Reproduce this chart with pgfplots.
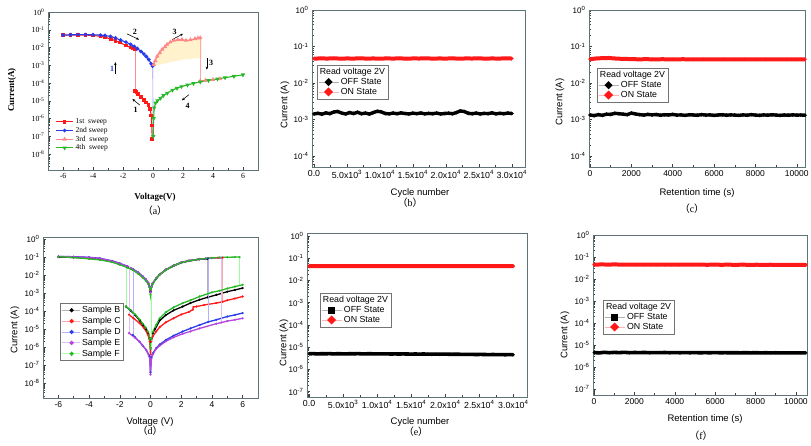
\documentclass[border=0pt]{standalone}
\usepackage{pgfplots}
\pgfplotsset{compat=1.18}
\usepackage{fontspec}
\setmainfont{Liberation Sans}
\newfontfamily\timesf{Liberation Serif}
\newfontfamily\cjk{Noto Sans CJK SC}
\usetikzlibrary{arrows.meta}
\definecolor{axc}{RGB}{95,115,120}
\definecolor{myred}{RGB}{255,25,25}
\definecolor{myblue}{RGB}{40,60,235}
\definecolor{mypink}{RGB}{255,135,135}
\definecolor{mygreen}{RGB}{40,185,40}
\definecolor{mypurple}{RGB}{180,70,220}
\definecolor{myyellow}{RGB}{255,242,205}
\newcommand{\tp}[1]{10\textsuperscript{#1}}
\pgfplotsset{
  myaxbase/.style={scale only axis, anchor=north west,
    axis line style={draw=axc, line width=0.7pt},
    tick pos=left, tick align=inside, major tick length=3pt, minor tick length=1.6pt,
    tick style={black!75, line width=0.45pt},
    tick label style={font=\fontsize{8}{9}\selectfont},
    scaled x ticks=false,
    legend cell align=left,
    minor ytick={2e-9,3e-9,4e-9,5e-9,6e-9,7e-9,8e-9,9e-9,
      2e-8,3e-8,4e-8,5e-8,6e-8,7e-8,8e-8,9e-8,
      2e-7,3e-7,4e-7,5e-7,6e-7,7e-7,8e-7,9e-7,
      2e-6,3e-6,4e-6,5e-6,6e-6,7e-6,8e-6,9e-6,
      2e-5,3e-5,4e-5,5e-5,6e-5,7e-5,8e-5,9e-5,
      2e-4,3e-4,4e-4,5e-4,6e-4,7e-4,8e-4,9e-4,
      2e-3,3e-3,4e-3,5e-3,6e-3,7e-3,8e-3,9e-3,
      0.02,0.03,0.04,0.05,0.06,0.07,0.08,0.09,
      0.2,0.3,0.4,0.5,0.6,0.7,0.8,0.9,2}},
  myylogA/.style={ytick={1e-8,1e-7,1e-6,1e-5,1e-4,1e-3,1e-2,1e-1,1},
    yticklabels={\tp{-8},\tp{-7},\tp{-6},\tp{-5},\tp{-4},\tp{-3},\tp{-2},\tp{-1},\tp{0}}},
  myylogB/.style={ytick={1e-4,1e-3,1e-2,1e-1,1},
    yticklabels={\tp{-4},\tp{-3},\tp{-2},\tp{-1},\tp{0}}},
  myylogC/.style={ytick={1e-7,1e-6,1e-5,1e-4,1e-3,1e-2,1e-1,1},
    yticklabels={\tp{-7},\tp{-6},\tp{-5},\tp{-4},\tp{-3},\tp{-2},\tp{-1},\tp{0}}},
  mycyc/.style={xmin=-300, xmax=32000, xtick={0,5000,10000,15000,20000,25000,30000},
    minor x tick num=1,
    xticklabels={0.0,5.0x\tp{3},1.0x\tp{4},1.5x\tp{4},2.0x\tp{4},2.5x\tp{4},3.0x\tp{4}},
    xticklabel style={font=\fontsize{8.8}{9}\selectfont}},
  myret/.style={xtick={0,2000,4000,6000,8000,10000}, minor x tick num=1,
    xticklabels={0,2000,4000,6000,8000,10000}, xticklabel style={font=\fontsize{8.5}{9}\selectfont}},
  myleg/.style={legend style={at={#1}, anchor=north west, draw=black!55, fill=white,
    font=\fontsize{8.8}{9.5}\selectfont, inner sep=1pt, row sep=-1.8pt, line width=0.5pt}},
  myoff/.style={black, line width=3.4pt, mark=*, mark size=1.7pt, mark options={line width=0.2pt},
    legend image code/.code={\draw[black!30, line width=0.7pt] (0pt,0pt) -- (20pt,0pt); \fill[black] (10pt,0pt) circle (1.7pt);}},
  myoffsq/.style={black, line width=3.6pt, mark=*, mark size=1.3pt, mark options={line width=0.2pt},
    legend image code/.code={\draw[black!30, line width=0.7pt] (0pt,0pt) -- (20pt,0pt); \fill[black] (8.3pt,-1.6pt) rectangle (11.5pt,1.6pt);}},
  myon/.style={myred, line width=4pt, mark=*, mark size=1.6pt, mark options={line width=0.2pt},
    legend image code/.code={\draw[red!30, line width=0.7pt] (0pt,0pt) -- (20pt,0pt); \fill[myred] (10pt,0pt) circle (1.7pt);}},
  mysmp/.style 2 args={#1, line width=1.3pt, mark=*, mark size=1pt, mark options={line width=0.2pt},
    legend image code/.code={\draw[#2, line width=0.8pt] (0pt,0pt) -- (18pt,0pt); \fill[#1] (10pt,0pt) circle (1.4pt);}},
  mysmpf/.style={#1, line width=1.3pt, mark=*, mark size=1pt, mark options={line width=0.2pt}, forget plot},
  mypale/.style={#1, line width=0.6pt, no marks, forget plot},
}
\begin{document}
\begin{tikzpicture}
\useasboundingbox (0,0) rectangle (811pt,-445pt);
% ---------------- (a)
\begin{axis}[ymode=log, myaxbase, at={(48pt,-12pt)}, width=210pt, height=158pt,
  xmin=-7, xmax=7, ymin=1.25e-9, ymax=1, myylogA,
  xtick={-6,-4,-2,0,2,4,6}, xticklabels={-6,-4,-2,0,2,4,6}, minor x tick num=1,
  tick label style={font=\timesf\fontsize{7.8}{8}\selectfont},
  legend style={at={(0.03,0.345)}, anchor=north west, draw=none, fill=none,
    font=\timesf\fontsize{7.5}{8}\selectfont, row sep=-2pt, inner sep=1pt}]
\addplot[fill=myyellow, draw=none, forget plot] coordinates {
 (0.1,1.3e-3) (0.28,3.2e-3) (0.61,7.8e-3) (0.94,1.5e-2) (1.38,2.5e-2) (1.94,2.8e-2) (2.2,2.5e-2)
 (2.5,2.7e-2) (2.8,3.1e-2) (3.1,3.5e-2) (3.25,3.5e-2) (3.25,2.6e-3) (2,2.1e-3) (1,1.4e-3) (0.1,9e-4)};
\addplot[myred, line width=1.1pt, mark=square*, mark size=1.3pt] coordinates {
 (-1.2,8e-3) (-1.35,9e-3) (-1.5,1e-2) (-1.8,1.3e-2) (-2.2,1.9e-2) (-2.5,2.4e-2) (-2.8,3e-2)
 (-3.2,3.8e-2) (-3.5,4.3e-2) (-4,4.8e-2) (-4.5,5e-2) (-5,5e-2) (-5.5,5e-2) (-6,5e-2)};
\addlegendentry{1st\ \ sweep}
\addplot[myred, line width=1.1pt, mark=square*, mark size=1.3pt, forget plot] coordinates {
 (-0.05,7e-8) (-0.08,4e-7) (-0.12,1.5e-6) (-0.2,3.5e-6) (-0.3,6e-6) (-0.45,8e-6) (-0.6,1.1e-5)
 (-0.8,1.7e-5) (-1,2.5e-5) (-1.1,3e-5) (-1.2,3.6e-5)};
\addplot[mypale=red!45] coordinates {(-1.2,3.6e-5) (-1.2,8e-3)};
\addplot[myblue, line width=1.1pt, mark=*, mark size=1.3pt] coordinates {
 (-6,5e-2) (-5.5,5.2e-2) (-5,5.3e-2) (-4.5,5.3e-2) (-4,5.2e-2) (-3.5,5e-2) (-3.2,4.7e-2)
 (-2.83,4.2e-2) (-2.5,3.4e-2) (-2.16,2.6e-2) (-1.8,2e-2) (-1.49,1.5e-2) (-1.25,1.15e-2)
 (-1.05,8.8e-3) (-0.8,6e-3) (-0.61,4.3e-3) (-0.45,3.1e-3) (-0.28,2.1e-3) (-0.12,1.2e-3) (-0.03,9e-4)};
\addlegendentry{2nd sweep}
\addplot[mypale=blue!40] coordinates {(-0.02,9e-4) (0,6e-6) (0,1e-7)};
\addplot[mypink, line width=1.1pt, mark=triangle*, mark size=1.5pt] coordinates {
 (0.05,1.1e-3) (0.15,1.8e-3) (0.28,3.2e-3) (0.45,5e-3) (0.61,7.8e-3) (0.8,1.1e-2) (0.94,1.5e-2)
 (1.15,2e-2) (1.38,2.5e-2) (1.65,2.7e-2) (1.94,2.8e-2) (2.2,2.5e-2) (2.5,2.7e-2) (2.8,3.1e-2)
 (3.0,3.4e-2) (3.15,3.5e-2)};
\addlegendentry{3rd\ \ sweep}
\addplot[mypale=red!35] coordinates {(3.15,3.5e-2) (3.15,1.3e-4)};
\addplot[mypink, line width=1.1pt, mark=triangle*, mark size=1.5pt, forget plot] coordinates {
 (3.15,1.3e-4) (3.5,1.4e-4) (4,1.55e-4) (4.47,1.7e-4)};
\addplot[mygreen, line width=1.1pt, mark=triangle*, mark options={rotate=180}, mark size=1.5pt] coordinates {
 (6,2.9e-4) (5.4,2.4e-4) (4.8,2e-4) (4.3,1.7e-4) (3.7,1.4e-4) (3.15,1.15e-4) (2.7,9.5e-5)
 (2.3,7.8e-5) (1.9,6.3e-5) (1.6,5.1e-5) (1.3,4e-5) (0.95,2.7e-5) (0.7,2e-5) (0.5,1.4e-5)
 (0.3,1e-5) (0.17,7.5e-6) (0.08,4e-6) (0.04,1e-6) (0.02,1e-7)};
\addlegendentry{4th\ \ sweep}
\draw[-{Stealth[length=3pt,width=2.5pt]}, line width=0.55pt] (axis cs:-1.74,0.059) -- (axis cs:-0.93,0.028);
\draw[-{Stealth[length=3pt,width=2.5pt]}, line width=0.55pt] (axis cs:1.28,0.028) -- (axis cs:2.0,0.059);
\draw[-{Stealth[length=3pt,width=2.5pt]}, line width=0.55pt] (axis cs:-2.51,3.4e-4) -- (axis cs:-2.51,1.5e-3);
\draw[-{Stealth[length=3pt,width=2.5pt]}, line width=0.55pt] (axis cs:3.59,2.6e-3) -- (axis cs:3.59,5.6e-4);
\draw[-{Stealth[length=3pt,width=2.5pt]}, line width=0.55pt] (axis cs:-0.88,5.7e-6) -- (axis cs:-1.37,1.25e-5);
\draw[-{Stealth[length=3pt,width=2.5pt]}, line width=0.55pt] (axis cs:2.4,2.2e-5) -- (axis cs:1.92,1.05e-5);
\node[font=\timesf\bfseries\fontsize{8}{9}\selectfont] at (axis cs:-1.21,0.075) {2};
\node[font=\timesf\bfseries\fontsize{8}{9}\selectfont] at (axis cs:1.45,0.075) {3};
\node[font=\timesf\bfseries\fontsize{8}{9}\selectfont, text=myblue] at (axis cs:-2.72,6.5e-4) {1};
\node[font=\timesf\bfseries\fontsize{8}{9}\selectfont] at (axis cs:3.88,1.35e-3) {3};
\node[font=\timesf\bfseries\fontsize{8}{9}\selectfont] at (axis cs:-1.15,3e-6) {1};
\node[font=\timesf\bfseries\fontsize{8}{9}\selectfont] at (axis cs:2.31,5.2e-6) {4};
\end{axis}
% ---------------- (b)
\begin{axis}[ymode=log, myaxbase, at={(312pt,-10pt)}, width=213pt, height=157pt, mycyc,
  ymin=5e-5, ymax=1, myylogB, myleg={(0.023,0.65)}]
\addlegendimage{empty legend}\addlegendentry{\hspace{-21pt}Read voltage 2V}
\addplot[myoff] coordinates {
 (0,1.42e-3) (600,1.48e-3) (1200,1.40e-3) (1800,1.52e-3) (2400,1.45e-3) (3000,1.60e-3)
 (3600,1.66e-3) (4200,1.50e-3) (4800,1.42e-3) (5400,1.55e-3) (6000,1.46e-3) (6600,1.58e-3)
 (7200,1.44e-3) (7800,1.50e-3) (8400,1.41e-3) (9000,1.55e-3) (9600,1.68e-3) (10200,1.62e-3)
 (10800,1.46e-3) (11400,1.43e-3) (12000,1.50e-3) (12600,1.44e-3) (13200,1.52e-3) (13800,1.46e-3)
 (14400,1.42e-3) (15000,1.49e-3) (15600,1.45e-3) (16200,1.51e-3) (16800,1.43e-3) (17400,1.47e-3)
 (18000,1.44e-3) (18600,1.50e-3) (19200,1.42e-3) (19800,1.46e-3) (20400,1.49e-3) (21000,1.44e-3)
 (21600,1.55e-3) (22200,1.72e-3) (22800,1.65e-3) (23400,1.48e-3) (24000,1.44e-3) (24600,1.50e-3)
 (25200,1.42e-3) (25800,1.47e-3) (26400,1.45e-3) (27000,1.52e-3) (27600,1.43e-3) (28200,1.48e-3)
 (28800,1.44e-3) (29400,1.50e-3) (30000,1.46e-3)};
\addlegendentry{OFF State}
\addplot[myon] coordinates {
 (0,4.65e-2) (1000,4.72e-2) (2000,4.68e-2) (3000,4.74e-2) (4000,4.66e-2) (5000,4.70e-2)
 (6000,4.68e-2) (7000,4.73e-2) (8000,4.67e-2) (9000,4.70e-2) (10000,4.66e-2) (11000,4.71e-2)
 (12000,4.68e-2) (13000,4.72e-2) (14000,4.66e-2) (15000,4.70e-2) (16000,4.69e-2) (17000,4.73e-2)
 (18000,4.67e-2) (19000,4.70e-2) (20000,4.68e-2) (21000,4.72e-2) (22000,4.66e-2) (23000,4.70e-2)
 (24000,4.69e-2) (25000,4.72e-2) (26000,4.67e-2) (27000,4.70e-2) (28000,4.68e-2) (29000,4.71e-2)
 (30000,4.69e-2)};
\addlegendentry{ON State}
\end{axis}
% ---------------- (c)
\begin{axis}[ymode=log, myaxbase, at={(589pt,-10pt)}, width=216pt, height=157pt, myret, xmin=-50, xmax=10400,
  ymin=5e-5, ymax=1, myylogB, myleg={(0.037,0.63)}]
\addlegendimage{empty legend}\addlegendentry{\hspace{-21pt}Read voltage 2V}
\addplot[myoff] coordinates {
 (0,1.33e-3) (200,1.28e-3) (400,1.36e-3) (600,1.30e-3) (800,1.40e-3) (1000,1.38e-3)
 (1200,1.48e-3) (1400,1.44e-3) (1600,1.40e-3) (1800,1.36e-3) (2000,1.50e-3) (2200,1.42e-3)
 (2400,1.36e-3) (2600,1.32e-3) (2800,1.38e-3) (3000,1.34e-3) (3200,1.37e-3) (3400,1.31e-3)
 (3600,1.35e-3) (3800,1.33e-3) (4000,1.38e-3) (4200,1.32e-3) (4400,1.34e-3) (4600,1.30e-3)
 (4800,1.35e-3) (5000,1.33e-3) (5200,1.31e-3) (5400,1.36e-3) (5600,1.32e-3) (5800,1.34e-3)
 (6000,1.30e-3) (6200,1.33e-3) (6400,1.35e-3) (6600,1.31e-3) (6800,1.34e-3) (7000,1.32e-3)
 (7200,1.30e-3) (7400,1.34e-3) (7600,1.31e-3) (7800,1.36e-3) (8000,1.32e-3) (8200,1.30e-3)
 (8400,1.34e-3) (8600,1.31e-3) (8800,1.35e-3) (9000,1.32e-3) (9200,1.30e-3) (9400,1.33e-3)
 (9600,1.31e-3) (9800,1.34e-3) (10000,1.32e-3) (10200,1.33e-3) (10400,1.31e-3)};
\addlegendentry{OFF State}
\addplot[myon] coordinates {
 (0,4.5e-2) (300,4.7e-2) (600,4.8e-2) (900,4.85e-2) (1200,4.7e-2) (1500,4.6e-2) (1800,4.55e-2)
 (2100,4.5e-2) (2400,4.45e-2) (2700,4.5e-2) (3000,4.45e-2) (3500,4.48e-2) (4000,4.45e-2)
 (4500,4.48e-2) (5000,4.44e-2) (5500,4.47e-2) (6000,4.45e-2) (6500,4.46e-2) (7000,4.44e-2)
 (7500,4.47e-2) (8000,4.44e-2) (8500,4.46e-2) (9000,4.44e-2) (9500,4.45e-2) (10000,4.44e-2)
 (10400,4.45e-2)};
\addlegendentry{ON State}
\end{axis}
% ---------------- (d)
\begin{axis}[ymode=log, myaxbase, at={(43pt,-237pt)}, width=215pt, height=161pt,
  xmin=-7, xmax=7, ymin=1.5e-9, ymax=1.3, myylogA,
  xtick={-6,-4,-2,0,2,4,6}, xticklabels={-6,-4,-2,0,2,4,6}, minor x tick num=1,
  xticklabel style={font=\fontsize{8.5}{9}\selectfont},
  myleg={(0.079,0.59)}, legend style={row sep=-1pt}]
% B
\addplot[mysmp={black}{black!30}] coordinates {
 (-6,0.1) (-5,0.095) (-4,0.085) (-3.3,0.076) (-2.5,0.055) (-2,0.04) (-1.5,0.0275) (-1.15,0.02)
 (-0.8,0.0124) (-0.5,7.6e-3) (-0.3,5.2e-3) (-0.15,3.4e-3) (-0.05,2.1e-3) (0,1.2e-3) (0.05,2.1e-3)
 (0.15,3.4e-3) (0.37,6.3e-3) (0.6,1.05e-2) (1,1.9e-2) (1.5,3.2e-2) (2,4.8e-2) (2.5,6e-2)
 (3.2,7.5e-2) (3.6,7.9e-2) (3.7,8e-2)};
\addlegendentry{Sample B}
\addplot[mypale=black!30] coordinates {(3.7,8e-2) (3.7,5.8e-4)};
\addplot[mysmpf=black] coordinates {
 (6,1.9e-3) (5.5,1.5e-3) (5,1.2e-3) (4.3,8e-4) (3.7,5.8e-4) (3.2,4.3e-4) (2.6,2.8e-4) (2.1,1.8e-4)
 (1.5,1.1e-4) (1,6e-5) (0.6,3e-5) (0.3,1e-5) (0.15,6e-6) (0.05,3e-6) (0,2e-6) (-0.05,3e-6)
 (-0.15,6e-6) (-0.3,1e-5) (-0.5,1.7e-5) (-0.7,3e-5) (-1,6e-5) (-1.3,1.1e-4) (-1.6,1.8e-4)};
\addplot[mypale=black!30] coordinates {(-1.6,1.8e-4) (-1.6,2.7e-2)};
% C
\addplot[mysmp={myred}{red!35}] coordinates {
 (-6,0.105) (-5,0.1) (-4,0.09) (-3.3,0.08) (-2.5,0.058) (-2,0.042) (-1.5,0.029) (-1.15,0.021)
 (-0.8,0.013) (-0.5,8e-3) (-0.3,5.5e-3) (-0.15,3.6e-3) (-0.05,2.2e-3) (0,1.3e-3) (0.05,2.2e-3)
 (0.15,3.6e-3) (0.37,6.6e-3) (0.6,1.1e-2) (1,2e-2) (1.5,3.4e-2) (2,5e-2) (2.5,6.3e-2)
 (3.2,7.8e-2) (3.6,8.2e-2) (4,8.8e-2) (4.4,9.2e-2) (4.7,9.3e-2)};
\addlegendentry{Sample C}
\addplot[mypale=red!35] coordinates {(4.7,9.3e-2) (4.7,3.3e-4)};
\addplot[mysmpf=myred] coordinates {
 (6,6.5e-4) (5.5,5e-4) (5,4e-4) (4.7,3.3e-4) (4.28,2.8e-4) (3.5,2.2e-4) (3,1.8e-4) (2.8,1.7e-4)
 (2.75,1.2e-4) (2.5,9e-5) (2,6.5e-5) (1.5,4e-5) (1,2.4e-5) (0.6,1.3e-5) (0.37,7.4e-6)
 (0.15,4e-6) (0.05,2e-6) (0,4e-7) (-0.05,2e-6) (-0.17,5e-6) (-0.4,1.1e-5) (-0.7,2.1e-5)
 (-1.1,4e-5) (-1.4,6.3e-5)};
\addplot[mypale=red!35] coordinates {(-1.4,6.3e-5) (-1.4,2.8e-2)};
% D
\addplot[mysmp={myblue}{blue!30}] coordinates {
 (-6,0.108) (-5,0.105) (-4,0.097) (-3.3,0.086) (-2.5,0.062) (-2,0.045) (-1.5,0.031) (-1.15,0.022)
 (-0.8,0.014) (-0.5,8.5e-3) (-0.3,5.8e-3) (-0.15,3.8e-3) (-0.05,2.3e-3) (0,1.2e-3) (0.05,2.2e-3)
 (0.15,3.6e-3) (0.37,6.6e-3) (0.6,1.1e-2) (1,2e-2) (1.5,3.4e-2) (2,5e-2) (2.5,6.3e-2)
 (3.2,7.8e-2) (3.6,8.2e-2) (3.75,8.4e-2)};
\addlegendentry{Sample D}
\addplot[mypale=blue!30] coordinates {(3.75,8.4e-2) (3.75,2.5e-5)};
\addplot[mysmpf=myblue] coordinates {
 (6,7.8e-5) (5.5,6.2e-5) (5,5e-5) (4.28,3.3e-5) (3.75,2.5e-5) (3.2,1.7e-5) (2.6,1.1e-5)
 (2.1,7.4e-6) (1.5,4.3e-6) (1,2.5e-6) (0.6,1.4e-6) (0.37,8.8e-7) (0.15,4.5e-7) (0.05,2.5e-7)
 (0,4e-8) (-0.05,3e-7) (-0.28,7e-7) (-0.5,1.2e-6) (-0.72,2e-6) (-1,3.5e-6) (-1.15,4.8e-6)};
\addplot[mypale=blue!30] coordinates {(-1.15,4.8e-6) (-1.15,2.2e-2)};
% E
\addplot[mysmp={mypurple}{mypurple!35}] coordinates {
 (-6,0.107) (-5,0.103) (-4,0.095) (-3.3,0.084) (-2.5,0.06) (-2,0.044) (-1.5,0.03) (-1.15,0.0215)
 (-0.8,0.0135) (-0.5,8.3e-3) (-0.3,5.7e-3) (-0.15,3.7e-3) (-0.05,2.2e-3) (0,1.1e-3) (0.05,2.2e-3)
 (0.15,3.6e-3) (0.37,6.6e-3) (0.6,1.1e-2) (1,2e-2) (1.5,3.4e-2) (2,5e-2) (2.5,6.3e-2)
 (3.2,7.8e-2) (3.6,8.3e-2) (4,8.8e-2) (4.6,9.3e-2)};
\addlegendentry{Sample E}
\addplot[mypale=mypurple!35] coordinates {(4.6,9.3e-2) (4.6,2.2e-5)};
\addplot[mysmpf=mypurple] coordinates {
 (6,4e-5) (5.5,3.3e-5) (5,2.8e-5) (4.6,2.3e-5) (4.28,2e-5) (3.2,1.1e-5) (2.6,7.5e-6) (2.1,5.5e-6)
 (1.5,3.5e-6) (1,2.1e-6) (0.6,1.2e-6) (0.37,8e-7) (0.15,4e-7) (0.05,2.2e-7) (0,3e-8)
 (-0.05,2.5e-7) (-0.28,7e-7) (-0.5,1.2e-6) (-0.72,2e-6) (-1,3.3e-6) (-1.4,6e-6)};
\addplot[mypale=mypurple!35] coordinates {(-1.4,6e-6) (-1.4,3e-2)};
% F
\addplot[mysmp={mygreen}{green!30}] coordinates {
 (-6,0.105) (-5,0.095) (-4,0.08) (-3.3,0.07) (-2.5,0.052) (-2,0.038) (-1.5,0.026) (-1.15,0.019)
 (-0.8,0.012) (-0.5,7.3e-3) (-0.3,5e-3) (-0.15,3.3e-3) (-0.05,2e-3) (0,8e-4) (0.05,2e-3)
 (0.15,3.4e-3) (0.37,6.4e-3) (0.6,1.07e-2) (1,1.95e-2) (1.5,3.3e-2) (2,4.9e-2) (2.5,6.2e-2)
 (3.2,7.7e-2) (3.6,8.3e-2) (4,0.09) (4.5,0.095) (5,0.098) (5.5,0.1) (5.8,0.1)};
\addlegendentry{Sample F}
\addplot[mypale=green!40] coordinates {(5.8,0.1) (5.8,2.7e-3)};
\addplot[mysmpf=mygreen] coordinates {
 (6,2.9e-3) (5.5,2.3e-3) (5,1.8e-3) (4.5,1.35e-3) (4,1.1e-3) (3.2,6.5e-4) (2.6,4e-4) (2.1,2.8e-4)
 (1.5,1.6e-4) (1,8.7e-5) (0.6,4e-5) (0.37,1.7e-5) (0.15,7e-6) (0.05,3e-6) (0,8e-7) (-0.05,3e-6)
 (-0.15,7e-6) (-0.3,1.2e-5) (-0.5,2e-5) (-0.7,3.4e-5) (-1,6.5e-5) (-1.3,1.15e-4) (-1.6,1.8e-4)};
\addplot[mypale=green!40] coordinates {(-1.6,1.8e-4) (-1.6,2.6e-2)};
\addplot[mypale=green!40] coordinates {(0.02,8e-4) (0.02,1e-6)};
\end{axis}
% ---------------- (e)
\begin{axis}[ymode=log, myaxbase, at={(307pt,-233pt)}, width=220pt, height=164pt, mycyc,
  ymin=5.7e-8, ymax=1.36, myylogC, myleg={(0.059,0.634)}]
\addlegendimage{empty legend}\addlegendentry{\hspace{-21pt}Read voltage 2V}
\addplot[myoffsq] coordinates {
 (0,5.0e-6) (600,5.1e-6) (1200,4.95e-6) (1800,5.05e-6) (2400,5.0e-6) (3000,5.1e-6) (3600,4.95e-6)
 (4200,5.05e-6) (4800,5.0e-6) (5400,4.95e-6) (6000,5.05e-6) (6600,5.0e-6) (7200,5.1e-6)
 (7800,4.95e-6) (8400,5.0e-6) (9000,5.05e-6) (9600,4.95e-6) (10200,5.0e-6) (10800,4.95e-6)
 (11400,5.0e-6) (12000,4.9e-6) (12600,4.95e-6) (13200,4.9e-6) (13800,4.95e-6) (14400,4.9e-6)
 (15000,4.85e-6) (15600,4.9e-6) (16200,4.85e-6) (16800,4.9e-6) (17400,4.85e-6) (18000,4.8e-6)
 (18600,4.85e-6) (19200,4.8e-6) (19800,4.85e-6) (20400,4.8e-6) (21000,4.75e-6) (21600,4.8e-6)
 (22200,4.75e-6) (22800,4.7e-6) (23400,4.75e-6) (24000,4.7e-6) (24600,4.65e-6) (25200,4.7e-6)
 (25800,4.65e-6) (26400,4.6e-6) (27000,4.65e-6) (27600,4.6e-6) (28200,4.6e-6) (28800,4.55e-6)
 (29400,4.6e-6) (30000,4.55e-6)};
\addlegendentry{OFF State}
\addplot[myon] coordinates {
 (0,4.4e-2) (1000,4.45e-2) (2000,4.4e-2) (3000,4.43e-2) (4000,4.38e-2) (5000,4.42e-2)
 (6000,4.4e-2) (7000,4.44e-2) (8000,4.39e-2) (9000,4.42e-2) (10000,4.4e-2) (11000,4.43e-2)
 (12000,4.39e-2) (13000,4.42e-2) (14000,4.4e-2) (15000,4.43e-2) (16000,4.39e-2) (17000,4.42e-2)
 (18000,4.4e-2) (19000,4.43e-2) (20000,4.39e-2) (21000,4.42e-2) (22000,4.4e-2) (23000,4.43e-2)
 (24000,4.39e-2) (25000,4.42e-2) (26000,4.4e-2) (27000,4.43e-2) (28000,4.39e-2) (29000,4.42e-2)
 (30000,4.4e-2)};
\addlegendentry{ON State}
\end{axis}
% ---------------- (f)
\begin{axis}[ymode=log, myaxbase, at={(593pt,-235pt)}, width=214pt, height=160pt, myret, xmin=-50, xmax=10550,
  ymin=5.4e-8, ymax=1, myylogC, myleg={(0.047,0.594)}]
\addlegendimage{empty legend}\addlegendentry{\hspace{-21pt}Read voltage 2V}
\addplot[myoffsq] coordinates {
 (0,4.6e-6) (250,4.4e-6) (500,4.7e-6) (750,4.5e-6) (1000,4.65e-6) (1250,4.55e-6) (1500,4.7e-6)
 (1750,4.5e-6) (2000,4.6e-6) (2250,4.55e-6) (2500,4.62e-6) (2750,4.5e-6) (3000,4.58e-6)
 (3250,4.52e-6) (3500,4.6e-6) (3750,4.5e-6) (4000,4.57e-6) (4250,4.5e-6) (4500,4.55e-6)
 (4750,4.5e-6) (5000,4.55e-6) (5250,4.48e-6) (5500,4.53e-6) (5750,4.48e-6) (6000,4.58e-6)
 (6250,4.48e-6) (6500,4.52e-6) (6750,4.46e-6) (7000,4.5e-6) (7250,4.45e-6) (7500,4.5e-6)
 (7750,4.45e-6) (8000,4.5e-6) (8250,4.44e-6) (8500,4.48e-6) (8750,4.43e-6) (9000,4.47e-6)
 (9250,4.43e-6) (9500,4.46e-6) (9750,4.42e-6) (10000,4.45e-6) (10250,4.42e-6) (10500,4.44e-6)};
\addlegendentry{OFF State}
\addplot[myon] coordinates {
 (0,4.5e-2) (350,4.6e-2) (700,4.55e-2) (1050,4.6e-2) (1400,4.52e-2) (1750,4.55e-2) (2100,4.5e-2)
 (2450,4.52e-2) (2800,4.48e-2) (3150,4.5e-2) (3500,4.47e-2) (3850,4.5e-2) (4200,4.46e-2)
 (4550,4.49e-2) (4900,4.46e-2) (5250,4.48e-2) (5600,4.45e-2) (5950,4.48e-2) (6300,4.45e-2)
 (6650,4.47e-2) (7000,4.44e-2) (7350,4.47e-2) (7700,4.44e-2) (8050,4.46e-2) (8400,4.44e-2)
 (8750,4.46e-2) (9100,4.43e-2) (9450,4.45e-2) (9800,4.43e-2) (10150,4.45e-2) (10500,4.43e-2)};
\addlegendentry{ON State}
\end{axis}
% ---------------- labels
\node[font=\timesf\bfseries\fontsize{9}{10}\selectfont] at (155pt,-197pt) {Voltage(V)};
\node[font=\timesf\bfseries\fontsize{9}{10}\selectfont, rotate=90] at (12pt,-90pt) {Current(A)};
\node[font=\fontsize{9.5}{11}\selectfont] at (420pt,-193pt) {Cycle number};
\node[font=\fontsize{9.5}{11}\selectfont, rotate=90] at (285pt,-105pt) {Current (A)};
\node[font=\fontsize{9.5}{11}\selectfont] at (697pt,-193pt) {Retention time (s)};
\node[font=\fontsize{9.5}{11}\selectfont, rotate=90] at (560pt,-102pt) {Current (A)};
\node[font=\fontsize{9.5}{11}\selectfont] at (150pt,-422pt) {Voltage (V)};
\node[font=\fontsize{9.5}{11}\selectfont, rotate=90] at (15pt,-330pt) {Current (A)};
\node[font=\fontsize{9.5}{11}\selectfont] at (420pt,-422pt) {Cycle number};
\node[font=\fontsize{9.5}{11}\selectfont, rotate=90] at (284pt,-343pt) {Current (A)};
\node[font=\fontsize{9.5}{11}\selectfont] at (705pt,-419pt) {Retention time (s)};
\node[font=\fontsize{9.5}{11}\selectfont, rotate=90] at (565pt,-335pt) {Current (A)};
\node[font=\fontsize{10}{11}\selectfont] at (155pt,-211pt) {\cjk（\timesf a\cjk）};
\node[font=\fontsize{10}{11}\selectfont] at (410pt,-203pt) {\cjk（\timesf b\cjk）};
\node[font=\fontsize{10}{11}\selectfont] at (692pt,-209pt) {\cjk（\timesf c\cjk）};
\node[font=\fontsize{10}{11}\selectfont] at (150pt,-431pt) {\cjk（\timesf d\cjk）};
\node[font=\fontsize{10}{11}\selectfont] at (416pt,-432pt) {\cjk（\timesf e\cjk）};
\node[font=\fontsize{10}{11}\selectfont] at (701pt,-436pt) {\cjk（\timesf f\cjk）};
\end{tikzpicture}
\end{document}
